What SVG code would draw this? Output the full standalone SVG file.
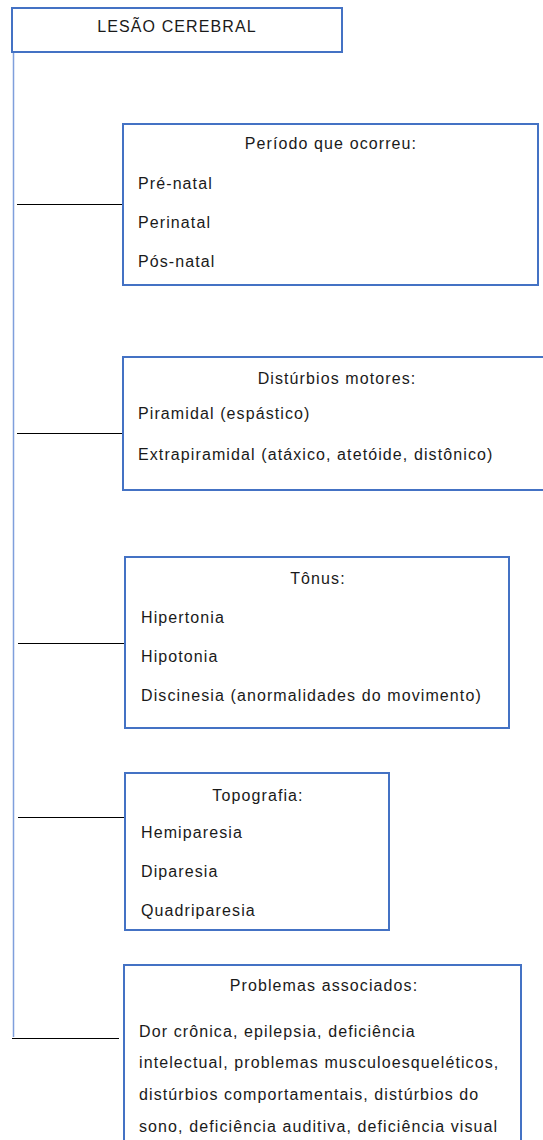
<svg xmlns="http://www.w3.org/2000/svg" width="543" height="1140" viewBox="0 0 543 1140">
<style>
.box{fill:#fff;stroke:#4472c4;stroke-width:2}
.t{font-family:"Liberation Sans",Arial,sans-serif;font-size:16px;letter-spacing:1.1px;fill:#1a1a1a}
.c{text-anchor:middle}
.conn{stroke:#000;stroke-width:1;fill:none}
.spine{stroke:#7f9fdc;stroke-width:1.5;fill:none}
</style>
<g id="connectors">
<line class="spine" x1="13.5" y1="52" x2="13.5" y2="1037"/>
<line class="conn" x1="17" y1="204.5" x2="123" y2="204.5"/>
<line class="conn" x1="17" y1="433.5" x2="123" y2="433.5"/>
<line class="conn" x1="18" y1="643.5" x2="125" y2="643.5"/>
<line class="conn" x1="18" y1="817.5" x2="125" y2="817.5"/>
<line class="conn" x1="12" y1="1038.5" x2="119" y2="1038.5"/>
</g>
<g id="n0">
<rect class="box" x="12" y="8" width="330" height="44"/>
<text class="t c" x="177" y="32">LESÃO CEREBRAL</text>
</g>
<g id="n1">
<rect class="box" x="123" y="124" width="415" height="161"/>
<text class="t c" x="331" y="149">Período que ocorreu:</text>
<text class="t" x="138" y="189">Pré-natal</text>
<text class="t" x="138" y="228">Perinatal</text>
<text class="t" x="138" y="267">Pós-natal</text>
</g>
<g id="n2">
<rect class="box" x="123" y="357" width="425" height="133"/>
<text class="t c" x="337" y="384">Distúrbios motores:</text>
<text class="t" x="138" y="419">Piramidal (espástico)</text>
<text class="t" x="138" y="460">Extrapiramidal (atáxico, atetóide, distônico)</text>
</g>
<g id="n3">
<rect class="box" x="125" y="557" width="384" height="171"/>
<text class="t c" x="318" y="584">Tônus:</text>
<text class="t" x="141" y="623">Hipertonia</text>
<text class="t" x="141" y="662">Hipotonia</text>
<text class="t" x="141" y="701">Discinesia (anormalidades do movimento)</text>
</g>
<g id="n4">
<rect class="box" x="125" y="773" width="264" height="157"/>
<text class="t c" x="258" y="801">Topografia:</text>
<text class="t" x="141" y="838">Hemiparesia</text>
<text class="t" x="141" y="877">Diparesia</text>
<text class="t" x="141" y="916">Quadriparesia</text>
</g>
<g id="n5">
<rect class="box" x="124" y="965" width="397" height="190"/>
<text class="t c" x="324" y="991">Problemas associados:</text>
<text class="t" x="139" y="1037">Dor crônica, epilepsia, deficiência</text>
<text class="t" x="139" y="1068">intelectual, problemas musculoesqueléticos,</text>
<text class="t" x="139" y="1100">distúrbios comportamentais, distúrbios do</text>
<text class="t" x="139" y="1132">sono, deficiência auditiva, deficiência visual</text>
</g>
</svg>
